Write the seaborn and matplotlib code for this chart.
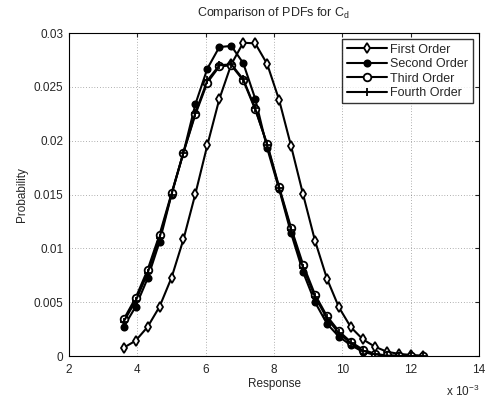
import numpy as np
import pandas as pd
import seaborn as sns
import matplotlib
matplotlib.use("Agg")
import matplotlib.pyplot as plt

# x grid (units of 1e-3)
response = [3.6, 3.95, 4.3, 4.65, 5.0, 5.35, 5.7, 6.05, 6.4, 6.75, 7.1, 7.45, 7.8,
            8.15, 8.5, 8.85, 9.2, 9.55, 9.9, 10.25, 10.6, 10.95, 11.3, 11.65, 12.0, 12.35]

first_order = [0.00077, 0.00142, 0.0027, 0.00458, 0.00727, 0.01084, 0.01508, 0.0196,
               0.02387, 0.0271, 0.0291, 0.02904, 0.02712, 0.02378, 0.0195, 0.01502,
               0.01071, 0.00718, 0.00452, 0.00267, 0.00155, 0.00087, 0.0004, 0.0002,
               0.0001, 0.00003]
second_order = [0.0027, 0.00458, 0.0072, 0.0106, 0.0150, 0.0189, 0.0234, 0.0267,
                0.0287, 0.0288, 0.0272, 0.0239, 0.0193, 0.0155, 0.0114, 0.0078,
                0.0050, 0.0030, 0.0018, 0.0010, 0.0004, 0.0001, 0.00003, 0.00001,
                0.0, 0.0]
third_order = [0.0034, 0.0054, 0.0080, 0.01127, 0.0151, 0.0189, 0.02245, 0.0254,
               0.0269, 0.0270, 0.0256, 0.0229, 0.0197, 0.0157, 0.0119, 0.0085,
               0.0057, 0.0037, 0.0023, 0.0013, 0.0006, 0.0002, 0.00005, 0.00001,
               0.0, 0.0]
fourth_order = [0.0032, 0.0051, 0.0077, 0.0110, 0.0150, 0.0189, 0.0226, 0.0256,
                0.0270, 0.0271, 0.0257, 0.0230, 0.0196, 0.0156, 0.0117, 0.0082,
                0.0055, 0.0035, 0.0021, 0.0012, 0.0005, 0.00015, 0.00004, 0.00001,
                0.0, 0.0]

series_names = ["First Order", "Second Order", "Third Order", "Fourth Order"]
x_ticks = [2, 4, 6, 8, 10, 12, 14]
y_ticks = [0, 0.005, 0.01, 0.015, 0.02, 0.025, 0.03]
y_tick_labels = ["0", "0.005", "0.01", "0.015", "0.02", "0.025", "0.03"]

sns.set_style("white")
plt.rcParams["font.family"] = ["Liberation Sans", "DejaVu Sans"]

fig = plt.figure(figsize=(4.9, 3.98), dpi=100)
ax = fig.add_axes([0.1408, 0.1055, 0.8368, 0.8115])

values = [first_order, second_order, third_order, fourth_order]
markers = ["d", "o", "o", "+"]
facecolors = ["white", "black", "white", "black"]
msizes = [5.5, 4.5, 5.5, 6]

for name, vals, m, fc, ms in zip(series_names, values, markers, facecolors, msizes):
    df = pd.DataFrame({"Response": response, "Probability": vals})
    sns.lineplot(data=df, x="Response", y="Probability", ax=ax, color="black",
                 linewidth=1.5, marker=m, markersize=ms, markerfacecolor=fc,
                 markeredgecolor="black", markeredgewidth=1.3, label=name)

ax.set_xlim(2, 14)
ax.set_ylim(0, 0.03)
ax.set_xticks(x_ticks)
ax.set_xticklabels([str(t) for t in x_ticks])
ax.set_yticks(y_ticks)
ax.set_yticklabels(y_tick_labels)
ax.tick_params(direction="in", length=3, labelsize=8.5, top=True, right=True,
               width=0.8, pad=4)
ax.tick_params(axis="x", pad=6)
ax.grid(True, linestyle=(0, (1, 3)), color="black", linewidth=0.5, alpha=0.6)
for s in ax.spines.values():
    s.set_color("black")
    s.set_linewidth(0.8)

ax.set_title("Comparison of PDFs for C$_\\mathregular{d}$", fontsize=9, pad=12)
ax.set_xlabel("Response", fontsize=8.5, labelpad=1)
ax.set_ylabel("Probability", fontsize=8.5, labelpad=4)
ax.text(1.0, -0.085, "x 10$^{\\mathregular{-3}}$", transform=ax.transAxes,
        ha="right", va="top", fontsize=8.5)

leg = ax.legend(loc="upper right", fontsize=9, handlelength=3.2, frameon=True,
                fancybox=False, edgecolor="black", borderpad=0.35, labelspacing=0.2,
                handletextpad=0.3, borderaxespad=0, bbox_to_anchor=(0.985, 0.981))
leg.get_frame().set_linewidth(1.0)

fig.savefig("out.png", dpi=100)
